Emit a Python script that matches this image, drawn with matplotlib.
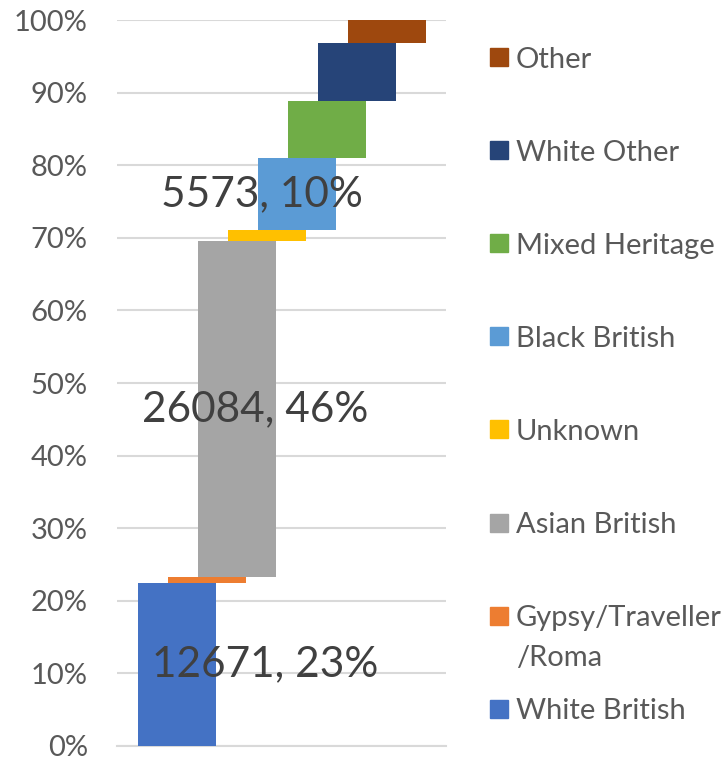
import matplotlib
matplotlib.use("Agg")
import matplotlib.pyplot as plt
from matplotlib.patches import Rectangle
from matplotlib.ticker import PercentFormatter

categories = ["White British", "Gypsy/Traveller\n/Roma", "Asian British", "Unknown",
              "Black British", "Mixed Heritage", "White Other", "Other"]
counts = [12671, 400, 26084, 850, 5573, 4430, 4515, 1750]
colors = ["#4472C4", "#ED7D31", "#A5A5A5", "#FFC000", "#5B9BD5", "#70AD47", "#264478", "#9E480E"]
labelled = [True, False, True, False, True, False, False, False]
ytick_vals = [0, 10, 20, 30, 40, 50, 60, 70, 80, 90, 100]

total = sum(counts)
shares = [c / total * 100 for c in counts]
bases = []
acc = 0
for s in shares:
    bases.append(acc)
    acc += s

plt.rcParams['font.family'] = ['Lato', 'DejaVu Sans']
W, H = 723, 760
fig = plt.figure(figsize=(W / 100, H / 100), dpi=100)
ax = fig.add_axes([117 / W, (H - 746) / H, (446 - 117) / W, (746 - 20) / H])

xs = list(range(len(categories)))
ax.bar(xs, shares, bottom=bases, width=2.6, color=colors, zorder=3)

ax.set_xlim(-2.0, 8.97)
ax.set_ylim(0, 100)
ax.set_yticks(ytick_vals)
ax.yaxis.set_major_formatter(PercentFormatter(decimals=0))
ax.grid(axis='y', color='#D9D9D9', linewidth=1.5, zorder=0)
ax.set_xticks([])
for sp in ['top', 'right', 'left']:
    ax.spines[sp].set_visible(False)
ax.spines['bottom'].set_color('#D9D9D9')
ax.spines['bottom'].set_linewidth(1.5)
ax.tick_params(axis='y', length=0, labelsize=21, labelcolor='#595959', pad=21)

label_dx = [2.93, 0, 2.6 - 2, 0, 2.83 - 4, 0, 0, 0]
for i, (c, s, b) in enumerate(zip(counts, shares, bases)):
    if labelled[i]:
        ax.text(xs[i] + label_dx[i], b + s / 2, f"{c}, {round(s)}%", ha='center', va='center',
                fontsize=30.5, color='#404040', zorder=4)

# legend (reversed order, evenly spaced)
for k, i in enumerate(reversed(xs)):
    yc = 57 + k * 93.1
    fig.patches.append(Rectangle((490 / W, 1 - (yc + 9) / H), 18 / W, 18 / H,
                                 transform=fig.transFigure, color=colors[i]))
    for j, line in enumerate(categories[i].split('\n')):
        fig.text(516 / W, 1 - (yc + j * 40) / H, line, ha='left', va='center_baseline',
                 fontsize=21, color='#595959')

fig.savefig("out.png", dpi=100)
